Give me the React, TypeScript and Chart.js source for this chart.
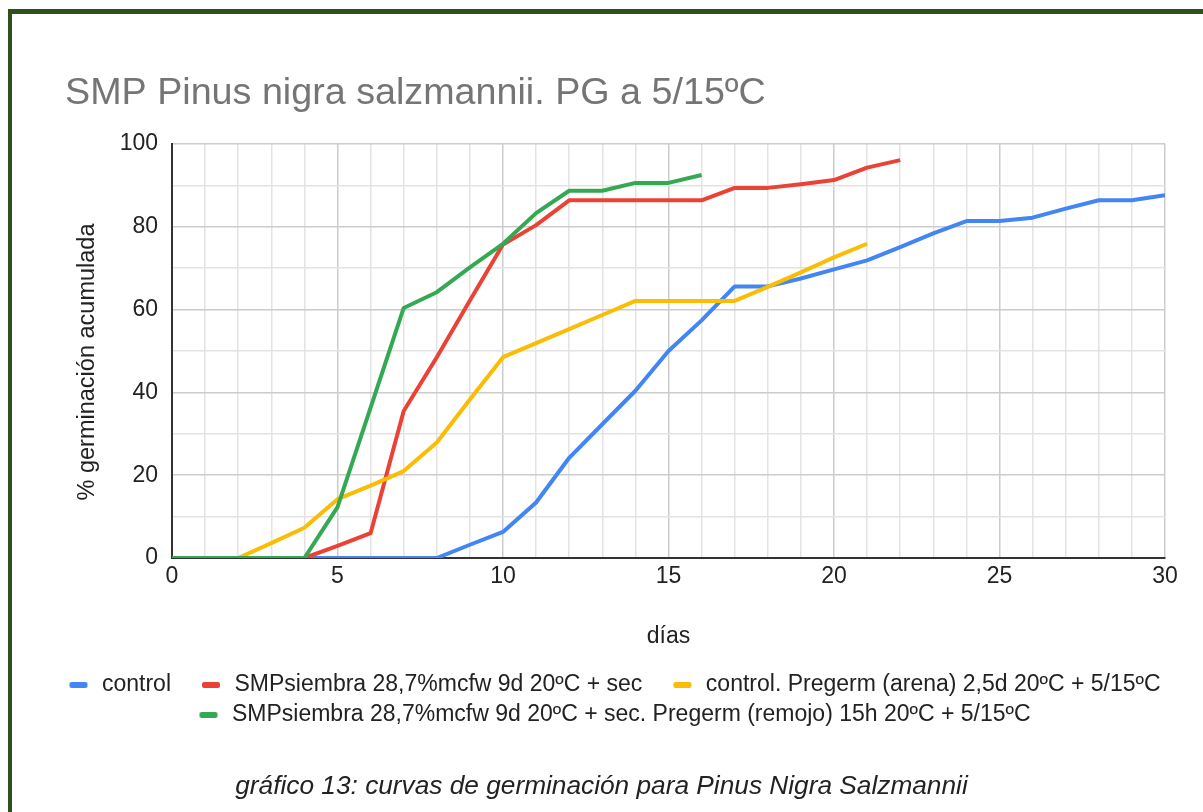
import React, { useEffect, useRef } from 'react';
import { Chart, registerables } from 'chart.js';

Chart.register(...registerables);

// ---- data ----
const days = [0, 1, 2, 3, 4, 5, 6, 7, 8, 9, 10, 11, 12, 13, 14, 15, 16, 17, 18, 19, 20, 21, 22, 23, 24, 25, 26, 27, 28, 29, 30];
const xTickLabels = ['0', '5', '10', '15', '20', '25', '30'];
const yTickLabels = ['0', '20', '40', '60', '80', '100'];

const seriesNames = [
  'control',
  'SMPsiembra 28,7%mcfw 9d 20ºC + sec',
  'control. Pregerm (arena) 2,5d 20ºC + 5/15ºC',
  'SMPsiembra 28,7%mcfw 9d 20ºC + sec. Pregerm (remojo) 15h 20ºC + 5/15ºC',
];
const seriesColors = ['#4285F4', '#EA4335', '#FBBC04', '#34A853'];

const controlValues = [0, 0, 0, 0, 0, 0, 0, 0, 0, 3.2, 6.3, 13.4, 24.2, 32.3, 40.4, 50, 57.4, 65.6, 65.6, 67.5, 69.7, 71.9, 75.1, 78.4, 81.4, 81.4, 82.2, 84.4, 86.4, 86.4, 87.6];
const smpSecValues = [0, 0, 0, 0, 0, 2.9, 6, 35.5, 48.5, 62.2, 75.7, 80.4, 86.4, 86.4, 86.4, 86.4, 86.4, 89.4, 89.4, 90.3, 91.3, 94.3, 96.1];
const controlArenaValues = [0, 0, 0, 3.6, 7.3, 14.2, 17.5, 21, 27.9, 38.3, 48.5, 51.9, 55.3, 58.7, 62.1, 62.1, 62.1, 62.1, 65.5, 69, 72.6, 75.9];
const smpRemojoValues = [0, 0, 0, 0, 0, 12.3, 36.3, 60.4, 64.2, 70.2, 75.9, 83.3, 88.7, 88.7, 90.6, 90.6, 92.5];

const allSeries = [controlValues, smpSecValues, controlArenaValues, smpRemojoValues];
const drawOrder = [3, 2, 1, 0];

const FONT = "'Liberation Sans', Arial, Helvetica, sans-serif";
const FRAME = '#2c5219';

function makeMarker(color: string): HTMLCanvasElement {
  const c = document.createElement('canvas');
  c.width = 45;
  c.height = 6;
  const g = c.getContext('2d')!;
  g.fillStyle = color;
  g.beginPath();
  (g as any).roundRect ? (g as any).roundRect(24, 0, 18, 6, 2) : g.rect(24, 0, 18, 6);
  g.fill();
  return c;
}

// position the title, legend and y-axis title like the original layout
const blockShift = {
  id: 'blockShift',
  afterLayout(chart: any) {
    if (chart.titleBlock) chart.titleBlock.left = 65;
    if (chart.legend) {
      chart.legend.left += 20.5;
      chart.legend.right += 20.5;
    }
    const ys = chart.scales && chart.scales.y;
    if (ys && !ys.__titlePatched) {
      const orig = ys.drawTitle;
      ys.drawTitle = function () {
        const t = this.top;
        const b = this.bottom;
        this.top = t + 11;
        this.bottom = b + 11;
        orig.call(this);
        this.top = t;
        this.bottom = b;
      };
      ys.__titlePatched = true;
    }
  },
};

export default function App() {
  const ref = useRef<HTMLCanvasElement>(null);

  useEffect(() => {
    if (!ref.current) return;
    const markers = seriesColors.map(makeMarker);
    const datasets = allSeries.map((vals, i) => ({
      label: seriesNames[i],
      data: vals.map((v, j) => ({ x: days[j], y: v })),
      borderColor: seriesColors[i],
      backgroundColor: seriesColors[i],
      borderWidth: 4,
      pointRadius: 0,
      pointHoverRadius: 0,
      tension: 0,
      borderJoinStyle: 'round' as const,
      order: drawOrder[i],
    }));

    const chart = new Chart(ref.current, {
      type: 'line',
      data: { datasets },
      plugins: [blockShift],
      options: {
        animation: false,
        responsive: false,
        maintainAspectRatio: false,
        layout: { padding: { left: 0, right: 38, top: 0, bottom: 75.5 } },
        plugins: {
          tooltip: { enabled: false },
          title: {
            display: true,
            text: 'SMP Pinus nigra salzmannii. PG a 5/15ºC',
            align: 'start',
            color: '#757575',
            font: { family: FONT, size: 37.7, weight: 'normal' },
            padding: { top: 71.4, bottom: 27.36 },
          },
          legend: {
            display: true,
            position: 'bottom',
            align: 'center',
            labels: {
              color: '#222222',
              font: { family: FONT, size: 23 },
              padding: 7,
              usePointStyle: true,
              pointStyleWidth: 45,
              boxHeight: 6,
              generateLabels: (c: any) => {
                const items = (Chart.defaults.plugins.legend.labels as any).generateLabels(c);
                return items
                  .sort((a: any, b: any) => a.datasetIndex - b.datasetIndex)
                  .map((it: any) => ({ ...it, pointStyle: markers[it.datasetIndex] }));
              },
            },
          },
        },
        scales: {
          x: {
            type: 'linear',
            min: 0,
            max: 30,
            afterFit: (s: any) => { s.height = 108.5; },
            border: { display: true, color: '#333333', width: 2 },
            grid: {
              drawTicks: false,
              lineWidth: 1.5,
              color: (ctx: any) => (ctx.tick && ctx.tick.value % 5 === 0 ? '#cccccc' : '#e3e3e3'),
            },
            ticks: {
              stepSize: 1,
              autoSkip: false,
              maxRotation: 0,
              padding: 5,
              color: '#222222',
              font: { family: FONT, size: 23 },
              callback: (v: any) => (xTickLabels.includes(String(v)) ? String(v) : ''),
            },
            title: {
              display: true,
              text: 'días',
              color: '#222222',
              font: { family: FONT, size: 23 },
              padding: { top: 0, bottom: 15.7 },
            },
          },
          y: {
            type: 'linear',
            min: 0,
            max: 100,
            afterFit: (s: any) => { s.width = 172; },
            border: { display: true, color: '#333333', width: 2 },
            grid: {
              drawTicks: false,
              lineWidth: 1.5,
              color: (ctx: any) => (ctx.tick && ctx.tick.value % 20 === 0 ? '#cccccc' : '#e3e3e3'),
            },
            ticks: {
              stepSize: 10,
              padding: 14,
              color: '#222222',
              font: { family: FONT, size: 23 },
              callback: (v: any) => (yTickLabels.includes(String(v)) ? String(v) : ''),
            },
            title: {
              display: true,
              text: '% germinación acumulada',
              color: '#222222',
              font: { family: FONT, size: 23.5 },
              padding: { top: 73.9, bottom: 0 },
            },
          },
        },
      } as any,
    });
    return () => chart.destroy();
  }, []);

  return (
    <div style={{ position: 'absolute', left: 0, top: 0, width: 1203, height: 812, background: '#ffffff', overflow: 'hidden' }}>
      <div style={{ position: 'absolute', left: 8, top: 9, width: 1195, height: 5, background: FRAME }} />
      <div style={{ position: 'absolute', left: 8, top: 9, width: 4, height: 803, background: FRAME }} />
      <canvas ref={ref} width={1203} height={812} style={{ position: 'absolute', left: 0, top: 0, width: 1203, height: 812 }} />
      <div
        style={{
          position: 'absolute',
          left: 0,
          top: 770,
          width: 1203,
          textAlign: 'center',
          fontFamily: FONT,
          fontStyle: 'italic',
          fontSize: 26.25,
          lineHeight: '30px',
          color: '#222222',
        }}
      >
        gráfico 13: curvas de germinación para Pinus Nigra Salzmannii
      </div>
    </div>
  );
}
